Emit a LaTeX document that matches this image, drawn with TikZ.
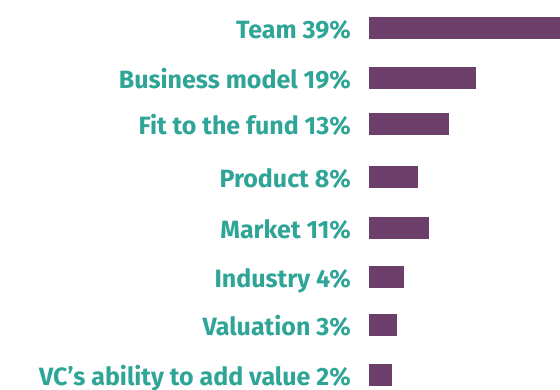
\documentclass[tikz,border=0pt]{standalone}
\usepackage{fontspec}
\setmainfont{Fira Sans}
\definecolor{barcol}{HTML}{6B3F69}
\definecolor{labcol}{HTML}{2EA596}
\begin{document}
\begin{tikzpicture}[x=1pt,y=1pt,
  bar/.style={fill=barcol,draw=none},
  lab/.style={anchor=base east,inner sep=0pt,text=labcol,font=\fontsize{25}{25}\selectfont\bfseries}]
\useasboundingbox (0,0) rectangle (560,390);
% bars: top y (px), right x (px)
\foreach \n/\t/\r/\txt in {a/17/560/Team 39\%, b/67/475.7/Business model 19\%, c/113/448.7/Fit to the fund 13\%, d/166/417.7/Product 8\%, e/217/428.7/Market 11\%, f/266/403.7/Industry 4\%, g/314/396.7/Valuation 3\%, h/364/391.7/VC’s ability to add value 2\%}{
  \fill[bar] (369,390-\t) rectangle (\r,390-\t-21.7);
  \node[lab] (l\n) at (351,390-\t-21.5) {\txt};
}
\end{tikzpicture}
\end{document}
